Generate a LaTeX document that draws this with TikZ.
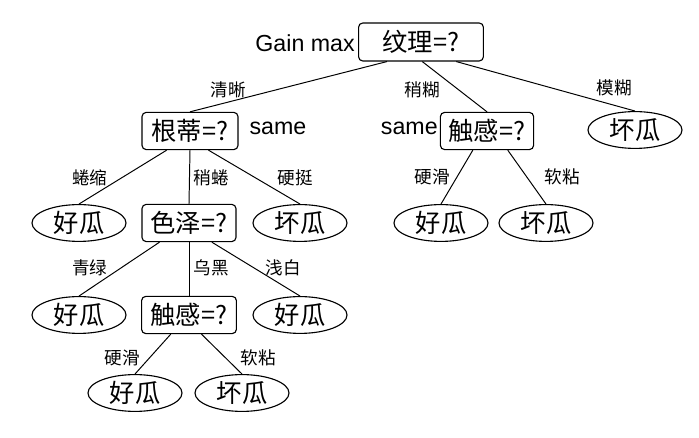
\documentclass[tikz,border=0pt]{standalone}
\usepackage{fontspec}
\newfontfamily\cjk{Noto Sans CJK SC}
\newfontfamily\latinsans{Liberation Sans}
\usetikzlibrary{shapes.geometric, calc}

\begin{document}
\begin{tikzpicture}[
	x=0.025cm, y=-0.025cm,
	% Styles for the tree nodes and labels
	testbox/.style={draw, line width=0.8pt, rounded corners=3pt, minimum width=2.4cm, minimum height=0.93cm, inner sep=1pt, font=\cjk\fontsize{18}{18}\selectfont},
	leaf/.style={draw, line width=0.8pt, ellipse, minimum width=2.35cm, minimum height=0.92cm, inner sep=0pt, font=\cjk\fontsize{18}{18}\selectfont},
	branchtext/.style={font=\cjk\fontsize{12.5}{12.5}\selectfont, inner sep=1pt},
	note/.style={font=\latinsans\fontsize{16.5}{16.5}\selectfont, inner sep=0pt},
	edge/.style={line width=0.7pt}
	]
	\useasboundingbox (0,0) rectangle (699,438);
	
	% ==========================================
	% 1. ROOT
	% ==========================================
	\node[testbox, minimum width=3.12cm, minimum height=0.95cm] (root) at (421,42) {纹理=?};
	\node[note, anchor=east] (gain) at (355,43) {Gain max};
	
	% ==========================================
	% 2. FIRST LEVEL
	% ==========================================
	\node[testbox] (gendi) at (190,131) {根蒂=?};
	\node[note] (sameL) at (278,128) {same};
	\node[testbox, minimum width=2.33cm] (chuganR) at (487,131) {触感=?};
	\node[note, anchor=east] (sameR) at (438,128) {same};
	\node[leaf] (moLeaf) at (635,130) {坏瓜};
	
	\draw[edge] ($(root.south west)!0.23!(root.south east)$) -- (gendi.north);
	\draw[edge] ($(root.south west)!0.51!(root.south east)$) -- (chuganR.north);
	\draw[edge] ($(root.south west)!0.78!(root.south east)$) -- (moLeaf.north);
	
	\node[branchtext] (qingxi) at (228,90) {清晰};
	\node[branchtext] (shaohu) at (422,90) {稍糊};
	\node[branchtext] (mohu) at (614,88) {模糊};
	
	% ==========================================
	% 3. SECOND LEVEL
	% ==========================================
	\node[leaf] (quanLeaf) at (79,223) {好瓜};
	\node[testbox, minimum width=2.35cm] (seze) at (189,223) {色泽=?};
	\node[leaf] (yingLeaf) at (300,223) {坏瓜};
	\node[leaf] (huaLeafR) at (441,223) {好瓜};
	\node[leaf] (nianLeafR) at (546,223) {坏瓜};
	
	\draw[edge] ($(gendi.south west)!0.26!(gendi.south east)$) -- (quanLeaf.north);
	\draw[edge] (gendi.south) -- (seze.north);
	\draw[edge] ($(gendi.south west)!0.69!(gendi.south east)$) -- (yingLeaf.north);
	\draw[edge] ($(chuganR.south west)!0.35!(chuganR.south east)$) -- (huaLeafR.north);
	\draw[edge] ($(chuganR.south west)!0.72!(chuganR.south east)$) -- (nianLeafR.north);
	
	\node[branchtext] (quansuo) at (90,178) {蜷缩};
	\node[branchtext] (shaoquan) at (211,178) {稍蜷};
	\node[branchtext] (yingting) at (295,178) {硬挺};
	\node[branchtext] (yinghuaR) at (432,177) {硬滑};
	\node[branchtext] (ruannianR) at (562,177) {软粘};
	
	% ==========================================
	% 4. THIRD LEVEL
	% ==========================================
	\node[leaf] (qingLeaf) at (79,315) {好瓜};
	\node[testbox, minimum width=2.37cm] (chuganL) at (189,315) {触感=?};
	\node[leaf] (qianLeaf) at (300,315) {好瓜};
	
	\draw[edge] ($(seze.south west)!0.19!(seze.south east)$) -- (qingLeaf.north);
	\draw[edge] (seze.south) -- (chuganL.north);
	\draw[edge] ($(seze.south west)!0.74!(seze.south east)$) -- (qianLeaf.north);
	
	\node[branchtext] (qinglv) at (90,268) {青绿};
	\node[branchtext] (wuhei) at (211,268) {乌黑};
	\node[branchtext] (qianbai) at (283,268) {浅白};
	
	% ==========================================
	% 5. FOURTH LEVEL
	% ==========================================
	\node[leaf] (huaLeafL) at (135,393) {好瓜};
	\node[leaf] (nianLeafL) at (242,393) {坏瓜};
	
	\draw[edge] ($(chuganL.south west)!0.31!(chuganL.south east)$) -- (huaLeafL.north);
	\draw[edge] ($(chuganL.south west)!0.63!(chuganL.south east)$) -- (nianLeafL.north);
	
	\node[branchtext] (yinghuaL) at (122,358) {硬滑};
	\node[branchtext] (ruannianL) at (258,358) {软粘};
	
\end{tikzpicture}
\end{document}
